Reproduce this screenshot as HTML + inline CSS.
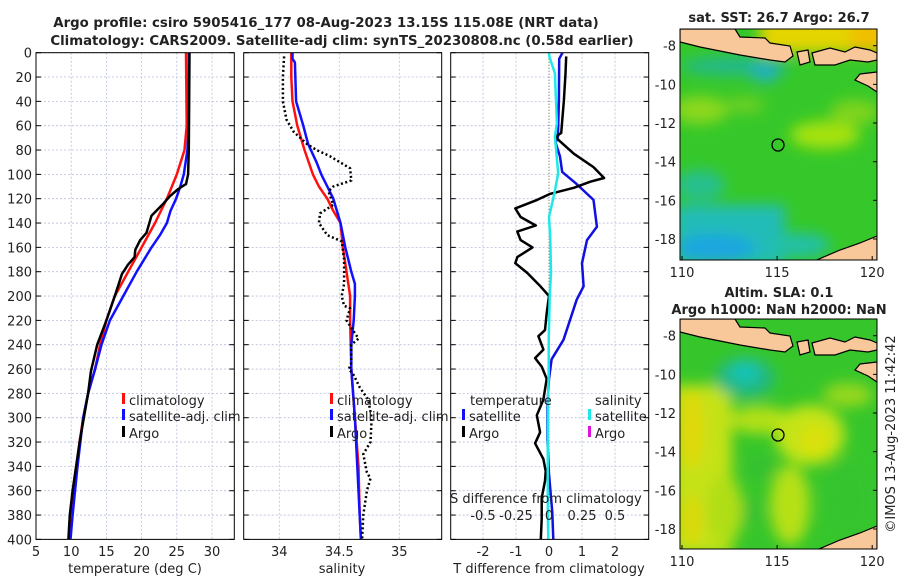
<!DOCTYPE html>
<html><head><meta charset="utf-8"><style>
body{margin:0;background:#fff;}
svg text{font-family:"DejaVu Sans","Liberation Sans",sans-serif;fill:#222;}
</style></head><body>
<svg id="fig" width="900" height="580" viewBox="0 0 900 580" xmlns="http://www.w3.org/2000/svg">
<defs>
<filter id="blur" x="-20%" y="-20%" width="140%" height="140%"><feGaussianBlur stdDeviation="7"/></filter>
<clipPath id="c1"><rect x="680" y="29" width="197" height="231"/></clipPath>
<clipPath id="c2"><rect x="680" y="319" width="197" height="230"/></clipPath>
<g id="land">
<path d="M680,29 L735,29 L740,37 L765,38 L770,43 L790,46 L793,56 L785,62 L770,60 L740,55 L720,51 L700,47 L680,42 Z" fill="#f9c89a" stroke="#000" stroke-width="1.2"/>
<path d="M797,52 L808,50 L810,62 L800,65 Z" fill="#f9c89a" stroke="#000" stroke-width="1.2"/>
<path d="M812,53 L830,48 L845,52 L855,47 L870,50 L877,53 L877,60 L868,62 L850,60 L835,65 L815,65 Z" fill="#f9c89a" stroke="#000" stroke-width="1.2"/>
<path d="M855,80 L860,74 L877,72 L877,92 L868,86 Z" fill="#f9c89a" stroke="#000" stroke-width="1.2"/>
<path d="M812,262 L840,250 L860,243 L877,236 L877,262 Z" fill="#f9c89a" stroke="#000" stroke-width="1.2"/>
</g>
</defs>
<text x="326" y="27" text-anchor="middle" font-size="13.3" font-weight="bold">Argo profile: csiro 5905416_177 08-Aug-2023 13.15S 115.08E (NRT data)</text>
<text x="342" y="45" text-anchor="middle" font-size="13.3" font-weight="bold">Climatology: CARS2009. Satellite-adj clim: synTS_20230808.nc (0.58d earlier)</text>
<g id="panels"></g>
<g id="maps">
<text x="779" y="22" text-anchor="middle" font-size="13" font-weight="bold">sat. SST: 26.7 Argo: 26.7</text>
<text x="779" y="297" text-anchor="middle" font-size="13" font-weight="bold">Altim. SLA: 0.1</text>
<text x="779" y="314" text-anchor="middle" font-size="13" font-weight="bold">Argo h1000: NaN h2000: NaN</text>
<text transform="translate(895,434) rotate(-90)" text-anchor="middle" font-size="13">©IMOS 13-Aug-2023 11:42:42</text>
<g clip-path="url(#c1)">
<rect x="680" y="29" width="197" height="231" fill="#36c82a"/>
<g filter="url(#blur)">
<rect x="760" y="15" width="130" height="38" fill="#e4d400"/>
<rect x="850" y="15" width="40" height="38" fill="#f0c000"/>
<ellipse cx="700" cy="110" rx="28" ry="14" fill="#8cd81c"/>
<ellipse cx="745" cy="105" rx="20" ry="8" fill="#70d020"/>
<ellipse cx="825" cy="135" rx="35" ry="14" fill="#a6e210"/>
<ellipse cx="855" cy="112" rx="25" ry="12" fill="#80d41c"/>
<ellipse cx="735" cy="66" rx="55" ry="9" fill="#20b890"/>
<ellipse cx="765" cy="72" rx="15" ry="10" fill="#22b0c0"/>
<rect x="675" y="205" width="110" height="60" fill="#20bcb8"/>
<ellipse cx="715" cy="248" rx="40" ry="14" fill="#1ea6e0"/>
<ellipse cx="800" cy="245" rx="30" ry="12" fill="#20c0a8"/>
<ellipse cx="700" cy="185" rx="25" ry="15" fill="#26c090"/>
</g>
<use href="#land"/>
<circle cx="778" cy="145" r="6" fill="none" stroke="#000" stroke-width="1.3"/>
</g>
<rect x="680" y="29" width="197" height="231" fill="none" stroke="#000"/>
<g clip-path="url(#c2)">
<rect x="680" y="319" width="197" height="230" fill="#36c62c"/>
<g filter="url(#blur)">
<rect x="672" y="385" width="60" height="170" fill="#c4e214"/>
<ellipse cx="692" cy="430" rx="12" ry="40" fill="#e0d810"/>
<ellipse cx="692" cy="520" rx="10" ry="25" fill="#dcd810"/>
<ellipse cx="760" cy="420" rx="30" ry="14" fill="#b4e018"/>
<ellipse cx="810" cy="435" rx="35" ry="30" fill="#c4e414"/>
<ellipse cx="815" cy="440" rx="15" ry="15" fill="#dce010"/>
<ellipse cx="790" cy="505" rx="20" ry="40" fill="#b6e016"/>
<ellipse cx="725" cy="510" rx="18" ry="35" fill="#b0de18"/>
<ellipse cx="848" cy="395" rx="25" ry="12" fill="#98d81c"/>
<ellipse cx="745" cy="378" rx="30" ry="20" fill="#22b880"/>
<ellipse cx="745" cy="372" rx="15" ry="11" fill="#14c4b8"/>
<ellipse cx="760" cy="468" rx="14" ry="10" fill="#36c030"/>
<ellipse cx="752" cy="512" rx="10" ry="12" fill="#36c030"/>
<ellipse cx="850" cy="500" rx="25" ry="40" fill="#34c42e"/>
</g>
<use href="#land" transform="translate(0,290)"/>
<circle cx="778" cy="435" r="6" fill="none" stroke="#000" stroke-width="1.3"/>
</g>
<rect x="680" y="319" width="197" height="230" fill="none" stroke="#000"/>
<g id="mapticks"></g>
</g>
</svg>
<script>
// ---- data ----
const depthTicks = [0,20,40,60,80,100,120,140,160,180,200,220,240,260,280,300,320,340,360,380,400];
const tempTicks = [5,10,15,20,25,30];
const salTicks = [34,34.5,35];
const salTickLabels = ["34","34.5","35"];
const tdiffTicks = [-2,-1,0,1,2];
const sdiffTicks = [-0.5,-0.25,0,0.25,0.5];
const sdiffTickLabels = ["-0.5","-0.25","0","0.25","0.5"];
const lonTicks = [110,115,120];
const latTicks = [-8,-10,-12,-14,-16,-18];

const tClimDepth = [0,60,80,100,110,120,140,160,180,200,220,240,260,280,300,320,340,360,380,400];
const tClimVal   = [26.3,26.4,26.1,25,24.3,23.6,21.9,20,18.1,16.2,15,14.1,13.4,12.4,11.7,11.2,10.9,10.4,10.1,9.8];
const tSatDepth = [0,60,80,100,110,120,130,140,150,160,180,200,220,240,260,280,300,340,380,400];
const tSatVal   = [26.7,26.7,26.5,26,25.5,24.9,24.1,23.6,22.6,21.4,19.3,17.4,15.5,14.3,13.4,12.4,11.7,10.9,10.2,9.9];
const tArgoDepth = [0,80,100,108,112,118,124,134,148,154,162,168,174,182,200,220,240,262,280,320,340,360,380,400];
const tArgoVal   = [26.8,26.7,26.6,26.3,25.2,24,23.1,21.4,20.7,19.8,19.1,19,18.1,17.2,16.2,15,13.7,12.8,12.4,11.2,10.7,10.2,9.8,9.6];

const sClimDepth = [0,20,40,60,80,100,110,120,130,140,160,180,200,220,260,300,340,380,400];
const sClimVal   = [34.10,34.10,34.11,34.15,34.21,34.28,34.33,34.40,34.45,34.51,34.53,34.56,34.59,34.59,34.60,34.63,34.66,34.67,34.68];
const sSatDepth = [0,5,8,40,50,60,75,90,100,110,120,130,140,160,180,190,200,220,240,260,300,340,380,400];
const sSatVal   = [34.11,34.11,34.13,34.14,34.17,34.20,34.24,34.31,34.35,34.40,34.45,34.48,34.51,34.55,34.60,34.63,34.63,34.62,34.60,34.60,34.63,34.65,34.67,34.68];
const sArgoDepth = [3,20,40,55,65,75,80,85,95,105,110,114,125,132,140,150,155,170,190,200,208,210,220,235,240,255,260,265,275,285,300,320,330,345,350,360,380,400];
const sArgoVal   = [34.04,34.03,34.03,34.06,34.12,34.23,34.31,34.42,34.59,34.60,34.45,34.41,34.45,34.34,34.33,34.40,34.52,34.54,34.54,34.52,34.54,34.59,34.56,34.66,34.60,34.60,34.58,34.62,34.67,34.74,34.77,34.76,34.70,34.73,34.76,34.73,34.70,34.69];

const dtSatDepth = [0,5,39,69,74,85,98,108,121,143,154,173,192,203,236,252,268,291,318,346,378,400];
const dtSatVal   = [0.41,0.31,0.3,0.27,0.2,0.33,0.4,0.84,1.35,1.45,1.15,1.0,1.05,0.84,0.44,0.08,0,-0.05,-0.05,0,0.1,0.13];
const dtArgoDepth = [3,17,39,66,69,72,83,94,103,106,111,116,121,128,135,142,147,154,160,168,173,181,192,200,214,228,233,244,251,258,268,285,298,312,321,334,344,352,366,383,400];
const dtArgoVal   = [0.52,0.5,0.45,0.37,0.2,0.3,0.75,1.35,1.67,1.25,0.75,0.04,-0.36,-1.02,-0.86,-0.4,-0.96,-0.86,-0.5,-0.96,-1.02,-0.66,-0.26,0,-0.07,-0.12,-0.32,-0.17,-0.42,-0.22,-0.07,-0.17,-0.37,-0.27,-0.42,-0.17,-0.1,-0.12,-0.22,-0.22,-0.25];
const dsSatDepth = [0,3,17,58,69,99,116,135,154,181,200,236,263,291,346,383,400];
const dsSatVal   = [0,0.002,0.045,0.06,0.045,0.07,0.04,0,0.01,0.015,0.005,-0.002,-0.002,-0.008,-0.01,-0.008,-0.005];

// ---- axes ----
const Y0 = 52.7, YK = 1.2167;
const yD = d => Y0 + d*YK;
const xT = t => 36 + (t-5)*7.04;
const xS = s => 279.3 + (s-34)*120;
const xDT = v => 549 + v*33;
const xDS = v => 549 + v*132;
const P = [{x:36,w:198.3},{x:243.7,w:198},{x:450.7,w:198}];
const NS = "http://www.w3.org/2000/svg";
const root = document.getElementById('panels');
function mk(tag, attrs, parent){
  const e = document.createElementNS(NS, tag);
  for (const k in attrs) e.setAttribute(k, attrs[k]);
  (parent||root).appendChild(e);
  return e;
}
function txt(s, x, y, size, anchor, name){
  const t = mk('text', {x:x, y:y, 'font-size':size, 'text-anchor':anchor||'middle'});
  t.textContent = s;
  
  
  return t;
}
function line(xs, ds, fx, color, w, name, dash){
  const pts = ds.map((d,i)=>fx(xs[i]).toFixed(1)+','+yD(d).toFixed(1)).join(' ');
  const p = mk('polyline', {points:pts, fill:'none', stroke:color, 'stroke-width':w, 'stroke-linejoin':'round'});
  if (dash) p.setAttribute('stroke-dasharray', dash);
  
  
}
const yb = yD(400);
P.forEach((p, i) => {
  depthTicks.forEach(d => {
    const g = mk('line', {x1:p.x, x2:p.x+p.w, y1:yD(d), y2:yD(d), stroke:'#b8bedd', 'stroke-width':0.8, 'stroke-dasharray':'2,2'});
    
    
    mk('line', {x1:p.x, x2:p.x+5, y1:yD(d), y2:yD(d), stroke:'#000'});
    mk('line', {x1:p.x+p.w-5, x2:p.x+p.w, y1:yD(d), y2:yD(d), stroke:'#000'});
  });
});
tempTicks.forEach(t => {
  if (t > 5) { const g = mk('line', {x1:xT(t), x2:xT(t), y1:Y0, y2:yb, stroke:'#b8bedd', 'stroke-width':0.8, 'stroke-dasharray':'2,2'});
      }
  txt(String(t), xT(t), 556, 13, 'middle', 'temp-tick-label');
});
salTicks.forEach((s,i) => {
  const g = mk('line', {x1:xS(s), x2:xS(s), y1:Y0, y2:yb, stroke:'#b8bedd', 'stroke-width':0.8, 'stroke-dasharray':'2,2'});
   
  txt(salTickLabels[i], xS(s), 556, 13, 'middle', 'salinity-tick-label');
});
tdiffTicks.forEach(v => {
  if (v !== 0) { const g = mk('line', {x1:xDT(v), x2:xDT(v), y1:Y0, y2:yb, stroke:'#b8bedd', 'stroke-width':0.8, 'stroke-dasharray':'2,2'});
      }
  txt(String(v), xDT(v), 556, 13, 'middle', 'tdiff-tick-label');
});
const zl = mk('line', {x1:549, x2:549, y1:Y0, y2:yb, stroke:'#555', 'stroke-width':1, 'stroke-dasharray':'1,2'});
 
depthTicks.forEach(d => txt(String(d), 32, yD(d)+5, 13, 'end', 'depth-tick-label'));

line(tClimVal, tClimDepth, xT, '#ff1010', 2.5, 'temp-climatology-line');
line(tSatVal, tSatDepth, xT, '#1010ff', 2.5, 'temp-satellite-line');
line(tArgoVal, tArgoDepth, xT, '#000', 2.5, 'temp-argo-line');
line(sClimVal, sClimDepth, xS, '#ff1010', 2.5, 'salinity-climatology-line');
line(sSatVal, sSatDepth, xS, '#1010ff', 2.5, 'salinity-satellite-line');
line(sArgoVal, sArgoDepth, xS, '#000', 2.5, 'salinity-argo-line', '2,2.5');
line(dtSatVal, dtSatDepth, xDT, '#1010e0', 2.5, 'tdiff-satellite-line');
line(dtArgoVal, dtArgoDepth, xDT, '#000', 2.5, 'tdiff-argo-line');
line(dsSatVal, dsSatDepth, xDS, '#20e8e8', 2.5, 'sdiff-satellite-line');

P.forEach(p => {
  const f = mk('rect', {x:p.x, y:Y0, width:p.w, height:yb-Y0, fill:'none', stroke:'#000', 'stroke-width':1});
   
});

function leg(x, y, color, label){
  const b = mk('rect', {x:x, y:y-12, width:3, height:11, fill:color});
   
  txt(label, x+7, y, 13, 'start', 'legend-entry');
}
leg(122, 405, '#ff1010', 'climatology'); leg(122, 421, '#1010ff', 'satellite-adj. clim'); leg(122, 438, '#000', 'Argo');
leg(330, 405, '#ff1010', 'climatology'); leg(330, 421, '#1010ff', 'satellite-adj. clim'); leg(330, 438, '#000', 'Argo');
txt('temperature', 470, 405, 13, 'start', 'legend-title-temperature');
leg(462, 421, '#1010ff', 'satellite'); leg(462, 438, '#000', 'Argo');
txt('salinity', 595, 405, 13, 'start', 'legend-title-salinity');
leg(588, 421, '#20e8e8', 'satellite'); leg(588, 438, '#e010e0', 'Argo');
txt('S difference from climatology', 450, 503, 13, 'start', 'sdiff-axis-title');
sdiffTicks.forEach((v,i) => txt(sdiffTickLabels[i], xDS(v), 520, 13, 'middle', 'sdiff-tick-label'));
txt('temperature (deg C)', 135, 573, 13, 'middle', 'temp-axis-title');
txt('salinity', 342, 573, 13, 'middle', 'salinity-axis-title');
txt('T difference from climatology', 549, 573, 13, 'middle', 'tdiff-axis-title');

const mt = document.getElementById('mapticks');
const xLon = l => 682 + (l-110)*19.02;
const yLat = (l, off) => 45.7 + off + (-8 - l)*19.33;
[0,290].forEach(off => {
  const bottom = off===0 ? 260 : 549;
  lonTicks.forEach(l => {
    const t = mk('text', {x:xLon(l), y:bottom+17, 'font-size':13, 'text-anchor':'middle'}, mt);
    t.textContent = String(l);
     
    mk('line', {x1:xLon(l), x2:xLon(l), y1:bottom, y2:bottom-4, stroke:'#000'}, mt);
  });
  latTicks.forEach(l => {
    const t = mk('text', {x:676, y:yLat(l,off)+5, 'font-size':13, 'text-anchor':'end'}, mt);
    t.textContent = String(l);
     
    mk('line', {x1:873, x2:877, y1:yLat(l,off), y2:yLat(l,off), stroke:'#000'}, mt);
  });
});
</script>
</body></html>
